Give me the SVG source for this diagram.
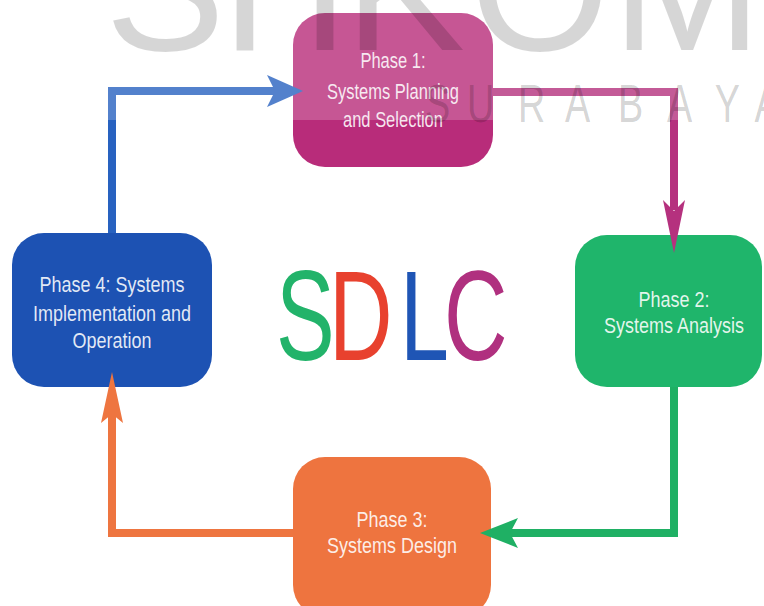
<svg xmlns="http://www.w3.org/2000/svg" width="764" height="606" viewBox="0 0 764 606">
<style>
.box{stroke:none}
.lbl{font-family:"Liberation Sans",Arial,sans-serif;font-size:18px;fill:#ffffff;fill-opacity:.88;text-anchor:middle}
.ln{fill:none;stroke-width:8;stroke-linejoin:miter;stroke-linecap:butt}
.big{font-family:"Liberation Sans",Arial,sans-serif;font-size:88px}
.wm{font-family:"Liberation Sans",Arial,sans-serif;fill:#000;fill-opacity:.16}
</style>
<rect width="764" height="606" fill="#ffffff"/>
<g id="nodes">
  <g id="phase1">
    <rect class="box" x="293" y="13" width="200" height="154" rx="32" fill="#b82c7a"/>
    <text class="lbl" style="font-size:16.5px" transform="translate(393,68) scale(1,1.3)">Phase 1:</text>
    <text class="lbl" style="font-size:16.5px" transform="translate(393,99) scale(1,1.3)">Systems Planning</text>
    <text class="lbl" style="font-size:16.5px" transform="translate(393,127) scale(1,1.3)">and Selection</text>
  </g>
  <g id="phase2">
    <rect class="box" x="575" y="235" width="187" height="152" rx="32" fill="#1fb56b"/>
    <text class="lbl" transform="translate(674,307) scale(1,1.22)">Phase 2:</text>
    <text class="lbl" transform="translate(674,333) scale(1,1.22)">Systems Analysis</text>
  </g>
  <g id="phase3">
    <rect class="box" x="293" y="457" width="198" height="160" rx="32" fill="#ee743f"/>
    <text class="lbl" transform="translate(392,527) scale(1,1.22)">Phase 3:</text>
    <text class="lbl" transform="translate(392,553) scale(1,1.22)">Systems Design</text>
  </g>
  <g id="phase4">
    <rect class="box" x="12" y="233" width="200" height="154" rx="32" fill="#1d52b3"/>
    <text class="lbl" transform="translate(112,292) scale(1,1.22)">Phase 4: Systems</text>
    <text class="lbl" transform="translate(112,321) scale(1,1.22)">Implementation and</text>
    <text class="lbl" transform="translate(112,348) scale(1,1.22)">Operation</text>
  </g>
  <g id="title">
    <g transform="translate(0,360) scale(1,1.45)">
      <text class="big" x="276" y="0" fill="#22b36a">S</text>
      <text class="big" x="329" y="0" fill="#e8412e">D</text>
      <text class="big" x="400" y="0" fill="#1f55b5">L</text>
      <text class="big" x="444" y="0" fill="#b0307f">C</text>
    </g>
  </g>
</g>
<g id="connectors">
  <path class="ln" stroke="#2862c0" d="M112,233 V91 H276"/>
  <polygon fill="#2862c0" points="303,91 267,75 275,91 267,107"/>
  <path class="ln" stroke="#b5317e" d="M493,92 H674 V210"/>
  <polygon fill="#b5317e" points="674,253 663,200 674,211 685,200"/>
  <path class="ln" stroke="#1fb064" d="M674,387 V533 H510"/>
  <polygon fill="#1fb064" points="480,533 518,518 510,533 518,548"/>
  <path class="ln" stroke="#ee7540" d="M293,533 H112 V414"/>
  <polygon fill="#ee7540" points="112,372 101,423 112,414 123,423"/>
</g>
<g id="watermark">
  <rect x="0" y="0" width="764" height="120" fill="#ffffff" fill-opacity="0.2"/>
  <g class="wm" style="font-size:180px">
    <text x="105" y="50">S</text>
    <text x="190" y="50">T</text>
    <text x="300" y="50">I</text>
    <text x="345" y="50">K</text>
    <text x="470" y="50">O</text>
    <text x="612" y="50">M</text>
  </g>
  <g class="wm" style="font-size:54px;fill-opacity:.18" transform="translate(0,122) scale(0.7,1)">
    <text x="607" y="0">S</text>
    <text x="667" y="0">U</text>
    <text x="740" y="0">R</text>
    <text x="807" y="0">A</text>
    <text x="883" y="0">B</text>
    <text x="953" y="0">A</text>
    <text x="1021" y="0">Y</text>
    <text x="1078" y="0">A</text>
  </g>
</g>
</svg>
